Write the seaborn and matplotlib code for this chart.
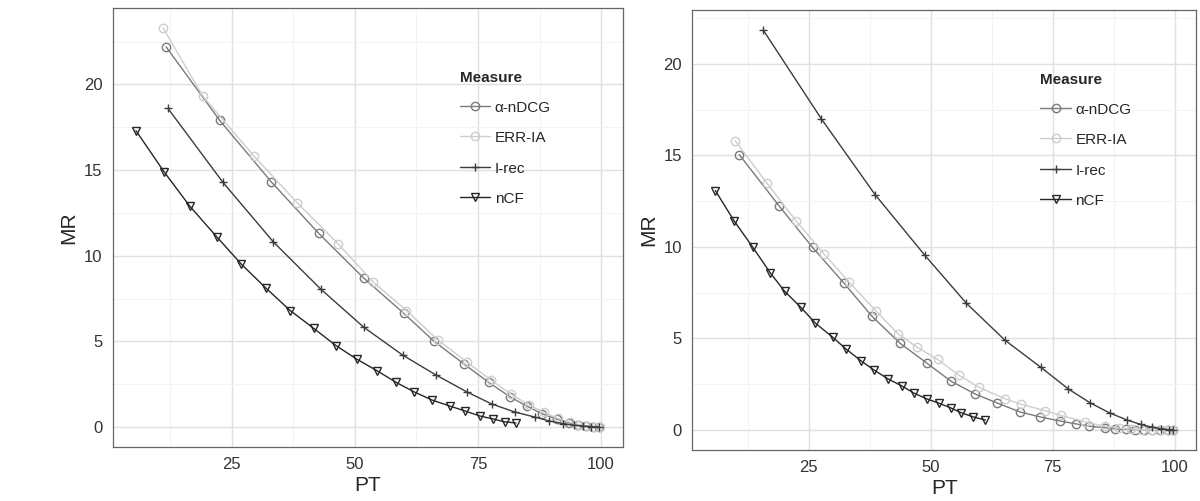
import seaborn as sns
import matplotlib.pyplot as plt
from matplotlib.ticker import MultipleLocator
import pandas as pd

# left panel
left_andcg_pt = [11.7, 22.6, 33.1, 42.7, 51.8, 59.9, 66.1, 72.2, 77.2, 81.5, 84.9, 88.1, 91.0, 93.4, 95.3, 97.0, 98.4, 99.6]
left_andcg_mr = [22.2, 17.9, 14.3, 11.3, 8.7, 6.65, 5.0, 3.67, 2.6, 1.76, 1.22, 0.76, 0.45, 0.25, 0.12, 0.05, 0.02, 0.0]
left_err_pt = [11.1, 19.2, 29.6, 38.3, 46.6, 53.8, 60.5, 66.8, 72.7, 77.6, 81.8, 85.3, 88.4, 91.2, 93.6, 95.5, 97.2, 98.6, 99.7]
left_err_mr = [23.3, 19.3, 15.8, 13.1, 10.7, 8.45, 6.8, 5.1, 3.8, 2.75, 1.9, 1.3, 0.85, 0.5, 0.28, 0.14, 0.06, 0.02, 0.0]
left_irec_pt = [12.1, 23.2, 33.5, 43.1, 51.8, 59.7, 66.5, 72.8, 77.8, 82.5, 86.5, 89.5, 92.2, 94.5, 96.4, 98.0, 99.5]
left_irec_mr = [18.6, 14.3, 10.8, 8.05, 5.83, 4.2, 3.03, 2.04, 1.34, 0.87, 0.58, 0.35, 0.2, 0.1, 0.05, 0.02, 0.0]
left_ncf_pt = [5.6, 11.3, 16.5, 22.0, 27.0, 32.0, 36.9, 41.7, 46.2, 50.4, 54.6, 58.4, 62.1, 65.7, 69.3, 72.4, 75.4, 78.0, 80.4, 82.7]
left_ncf_mr = [17.3, 14.9, 12.9, 11.1, 9.5, 8.1, 6.8, 5.75, 4.75, 3.96, 3.27, 2.6, 2.04, 1.57, 1.22, 0.93, 0.64, 0.47, 0.3, 0.23]

# right panel
right_andcg_pt = [10.8, 18.9, 25.8, 32.3, 38.0, 43.7, 49.2, 54.1, 59.1, 63.6, 68.3, 72.4, 76.4, 79.7, 82.5, 85.6, 87.8, 90.0, 91.9, 93.7, 95.4, 97.0, 98.5, 99.7]
right_andcg_mr = [15.04, 12.26, 9.97, 8.0, 6.2, 4.74, 3.65, 2.67, 1.96, 1.47, 0.98, 0.71, 0.49, 0.33, 0.2, 0.12, 0.06, 0.03, 0.02, 0.01, 0.0, 0.0, 0.0, 0.0]
right_err_pt = [10.0, 16.4, 22.5, 28.2, 33.3, 38.8, 43.3, 47.2, 51.4, 55.7, 59.8, 65.2, 68.5, 73.4, 76.6, 81.5, 85.6, 88.5, 91.0, 93.3, 95.3, 97.1, 98.6, 99.7]
right_err_mr = [15.8, 13.5, 11.4, 9.6, 8.07, 6.5, 5.25, 4.52, 3.85, 3.0, 2.34, 1.7, 1.4, 1.05, 0.8, 0.44, 0.2, 0.1, 0.05, 0.02, 0.01, 0.0, 0.0, 0.0]
right_irec_pt = [15.7, 27.6, 38.6, 48.8, 57.3, 65.2, 72.5, 78.2, 82.7, 86.6, 90.2, 93.0, 95.3, 97.2, 98.7, 99.7]
right_irec_mr = [21.85, 17.0, 12.86, 9.54, 6.92, 4.9, 3.43, 2.23, 1.47, 0.93, 0.54, 0.3, 0.15, 0.06, 0.02, 0.0]
right_ncf_pt = [5.9, 9.8, 13.6, 17.1, 20.1, 23.4, 26.4, 29.9, 32.7, 35.8, 38.4, 41.3, 44.1, 46.5, 49.2, 51.6, 54.1, 56.3, 58.7, 61.2]
right_ncf_mr = [13.08, 11.4, 9.97, 8.6, 7.57, 6.7, 5.83, 5.07, 4.41, 3.76, 3.27, 2.78, 2.4, 2.02, 1.69, 1.47, 1.2, 0.93, 0.71, 0.54]

measures = ["α-nDCG", "ERR-IA", "I-rec", "nCF"]

palette = {"α-nDCG": "#7a7a7a", "ERR-IA": "#cdcdcd", "I-rec": "#3c3c3c", "nCF": "#262626"}
markers = {"α-nDCG": "o", "ERR-IA": "o", "I-rec": "+", "nCF": "v"}


def make_df(series):
    parts = []
    for name, (pt, mr) in zip(measures, series):
        parts.append(pd.DataFrame({"PT": pt, "MR": mr, "Measure": name}))
    return pd.concat(parts, ignore_index=True)


df_left = make_df([(left_andcg_pt, left_andcg_mr), (left_err_pt, left_err_mr),
                   (left_irec_pt, left_irec_mr), (left_ncf_pt, left_ncf_mr)])
df_right = make_df([(right_andcg_pt, right_andcg_mr), (right_err_pt, right_err_mr),
                    (right_irec_pt, right_irec_mr), (right_ncf_pt, right_ncf_mr)])

sns.set_style("white")
plt.rcParams["font.family"] = ["Liberation Sans", "DejaVu Sans"]

fig = plt.figure(figsize=(12, 5.01), dpi=100)
ax1 = fig.add_axes([0.094, 0.108, 0.425, 0.876])
ax2 = fig.add_axes([0.577, 0.102, 0.42, 0.878])

for ax, df, anchor in [(ax1, df_left, (0.665, 0.875)), (ax2, df_right, (0.675, 0.875))]:
    # seaborn can't mix filled and line-art markers in one call, so draw each measure separately
    handles = []
    for m in measures:
        sns.lineplot(
            data=df[df["Measure"] == m], x="PT", y="MR",
            color=palette[m], marker=markers[m], markersize=6,
            markerfacecolor="none", markeredgecolor=palette[m], markeredgewidth=1.0,
            linewidth=1.0, sort=False, ax=ax, label=m,
        )
        handles.append(ax.get_lines()[-1])
    ax.xaxis.set_major_locator(MultipleLocator(25))
    ax.xaxis.set_minor_locator(MultipleLocator(12.5))
    ax.yaxis.set_major_locator(MultipleLocator(5))
    ax.yaxis.set_minor_locator(MultipleLocator(2.5))
    ax.grid(True, which="major", color="#e0e0e0", linewidth=1.0)
    ax.grid(True, which="minor", color="#f1f1f1", linewidth=0.6)
    ax.set_axisbelow(True)
    for s in ax.spines.values():
        s.set_color("#666666")
        s.set_linewidth(0.9)
    ax.tick_params(axis="both", which="major", direction="out", length=4,
                   width=0.9, color="#333333", labelcolor="#333333", labelsize=12)
    ax.tick_params(axis="both", which="minor", length=0)
    ax.set_xlabel("PT", fontsize=15, labelpad=3)
    ax.set_ylabel("MR", fontsize=15, labelpad=4)
    ax.legend(
        handles=handles, labels=measures,
        loc="upper left", bbox_to_anchor=anchor, frameon=False,
        title="Measure", title_fontproperties={"weight": "bold", "size": 11},
        fontsize=11, handlelength=2.0, handleheight=1.0, labelspacing=1.0,
        handletextpad=0.3, borderpad=0.0, alignment="left",
    )

fig.savefig("out.png", dpi=100)
